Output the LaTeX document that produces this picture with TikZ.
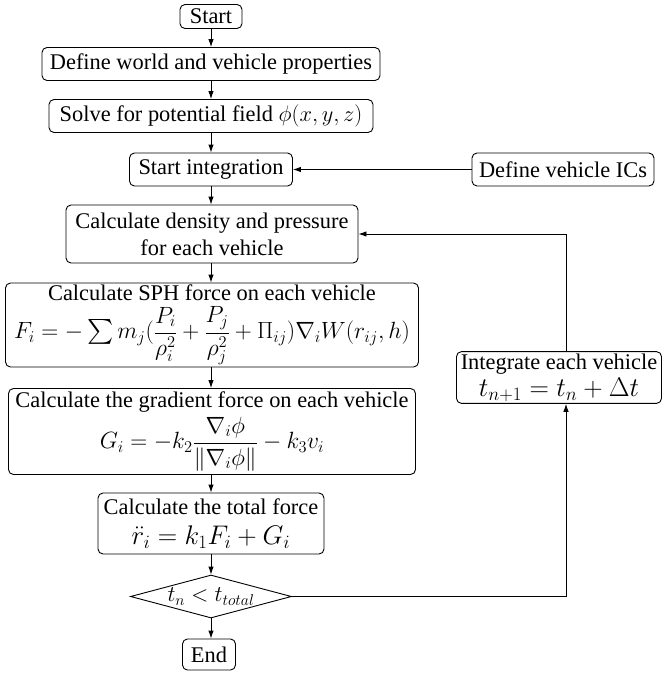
\documentclass[tikz,border=0pt]{standalone}
\usepackage{fix-cm}
\usepackage{exscale}
\usepackage[no-math]{fontspec}
\setmainfont{Liberation Serif}
\usetikzlibrary{arrows.meta,shapes.geometric}
\tikzset{
  box/.style={draw, rounded corners=5pt, line width=0.9pt, inner sep=2pt, align=center,
    font=\fontsize{22.4}{27}\selectfont},
  arr/.style={-{Latex[length=8pt,width=5.5pt]}, line width=0.9pt},
  decbox/.style={draw, diamond, line width=0.9pt, inner sep=0pt, minimum width=161pt, minimum height=43pt},
  dectxt/.style={font=\fontsize{22.4}{27}\selectfont, inner sep=0pt}
}
\newcommand{\fmlbig}{\fontsize{26.9}{30}\selectfont}
\newcommand{\fmlmid}{\fontsize{23.5}{28}\selectfont}
\newcommand{\midsum}{\mathop{\hbox{\fontsize{27}{27}\selectfont$\textstyle\sum$}}}
\begin{document}
\begin{tikzpicture}[x=1pt,y=-1pt]
\useasboundingbox (0,0) rectangle (662,673);
\node[box, minimum width=62, minimum height=24] (start) at (211,16.5) {Start};
\node[box, minimum width=338, minimum height=33] (define) at (211,64) {Define world and vehicle properties};
\node[box, minimum width=324, minimum height=33] (solve) at (211,116) {Solve for potential field $\phi(x,y,z)$};
\node[box, minimum width=163, minimum height=33] (startint) at (211,169.5) {Start integration};
\node[box, minimum width=182, minimum height=33] (ics) at (563,169.5) {Define vehicle ICs};
\node[box, minimum width=292, minimum height=58] (density) at (212,234) {Calculate density and pressure\\for each vehicle};
\node[box, minimum width=413, minimum height=84, inner sep=1pt] (sph) at (212,325) {Calculate SPH force on each vehicle\\[5pt]{\fmlmid$\displaystyle F_i = -\midsum m_j(\frac{P_i}{\rho_i^2}+\frac{P_j}{\rho_j^2}+\Pi_{ij})\nabla_i W(r_{ij},h)$}};
\node[box, minimum width=407, minimum height=86, inner sep=1pt] (grad) at (212,431.5) {Calculate the gradient force on each vehicle\\[3pt]{\fmlmid$\displaystyle G_i = -k_2\frac{\nabla_i\phi}{\|\nabla_i\phi\|} - k_3 v_i$}};
\node[box, minimum width=226, minimum height=61] (total) at (211,523.5) {Calculate the total force\\[3pt]{\fmlbig$\ddot{r}_i = k_1 F_i + G_i$}};
\node[decbox] (dec) at (211,596.5) {};
\node[dectxt] (dectext) at (211,596.5) {$t_n < t_{total}$};
\node[box, minimum width=53, minimum height=31] (endn) at (209,654.5) {End};
\node[box, minimum width=205, minimum height=51] (integ) at (559,377.5) {Integrate each vehicle\\{\fmlbig$t_{n+1} = t_n + \Delta t$}};
\coordinate (loopbot) at (566,596.5);
\coordinate (looptop) at (566,234);
\draw[arr] (start) -- (define);
\draw[arr] (define) -- (solve);
\draw[arr] (solve) -- (startint);
\draw[arr] (ics) -- (startint);
\draw[arr] (startint) -- (startint.south |- density.north);
\draw[arr] (startint.south |- density.south) -- (startint.south |- sph.north);
\draw[arr] (startint.south |- sph.south) -- (startint.south |- grad.north);
\draw[arr] (startint.south |- grad.south) -- (startint.south |- total.north);
\draw[arr] (total) -- (dec);
\draw[arr] (dec) -- (dec.south |- endn.north);
\draw[arr] (dec.east) -- (loopbot) -- (loopbot |- integ.south);
\draw[arr] (looptop |- integ.north) -- (looptop) -- (density.east |- looptop);
\end{tikzpicture}
\end{document}
